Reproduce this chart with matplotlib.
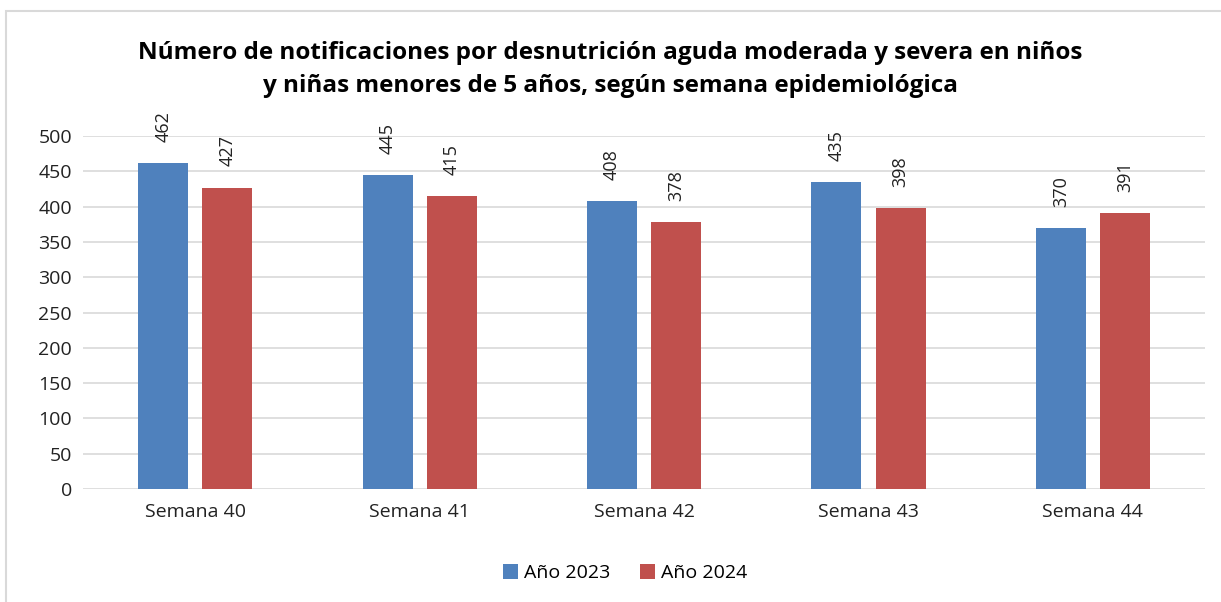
import matplotlib.pyplot as plt
import numpy as np
from matplotlib.patches import Rectangle

plt.rcParams['font.family'] = ['Open Sans', 'DejaVu Sans']

semanas = ['Semana 40', 'Semana 41', 'Semana 42', 'Semana 43', 'Semana 44']
anio_2023 = [462, 445, 408, 435, 370]
anio_2024 = [427, 415, 378, 398, 391]
series_labels = ['Año 2023', 'Año 2024']
colors = ['#4f81bd', '#c0504d']

fig = plt.figure(figsize=(12.21, 6.02), dpi=100)
ax = fig.add_axes([0.068, 0.1877, 0.919, 0.5863])

# outer chart border (only left and top edges are in view)
fig.patches.append(Rectangle((6 / 1221, -0.2), 1.2, 1.2 - 11 / 602, transform=fig.transFigure,
                             facecolor='none', edgecolor='#d9d9d9', linewidth=1.5))

x = np.arange(len(semanas))
w = 0.223
off = 0.143
for vals, dx, c, lab in zip([anio_2023, anio_2024], [-off, off], colors, series_labels):
    bars = ax.bar(x + dx, vals, width=w, color=c, label=lab, zorder=3)
    for b, v in zip(bars, vals):
        ax.text(b.get_x() + b.get_width() / 2, v + 30, str(v), rotation=90,
                ha='center', va='bottom', fontsize=13, color='#222222')

ax.set_xlim(-0.5, len(semanas) - 0.5)
ax.set_ylim(0, 500)
ax.set_yticks(range(0, 501, 50))
ax.set_xticks(x)
ax.set_xticklabels(semanas)
ax.grid(axis='y', color='#d9d9d9', linewidth=1.2, zorder=0)
for s in ax.spines.values():
    s.set_visible(False)
ax.tick_params(axis='both', length=0, labelsize=14, colors='#222222')
ax.tick_params(axis='x', pad=10)
ax.tick_params(axis='y', pad=8)

fig.text(0.5, 0.885, 'Número de notificaciones por desnutrición aguda moderada y severa en niños\n'
         'y niñas menores de 5 años, según semana epidemiológica',
         ha='center', va='center', fontsize=17.5, fontweight='bold', linespacing=1.5)

fig.legend(loc='center', bbox_to_anchor=(0.512, 0.048), ncol=2, frameon=False,
           fontsize=14, handlelength=0.8, handleheight=0.8, handletextpad=0.3,
           columnspacing=1.5)

fig.savefig('out.png', dpi=100)
